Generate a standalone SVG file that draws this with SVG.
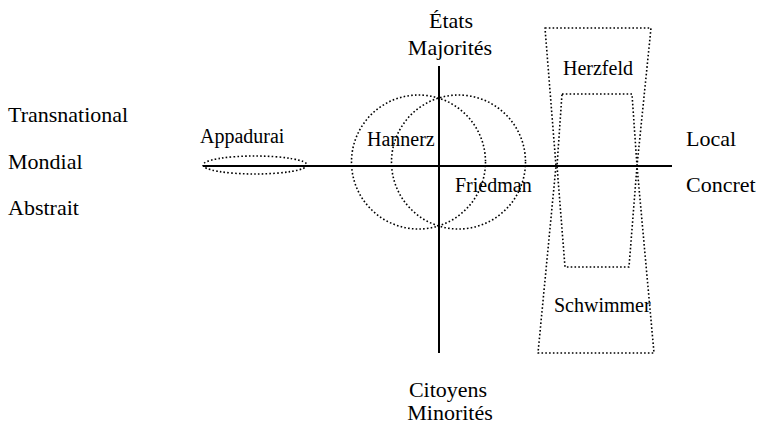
<svg xmlns="http://www.w3.org/2000/svg" width="759" height="427" viewBox="0 0 759 427">
<style>
text{font-family:"Liberation Serif","Times New Roman",serif;fill:#000}
.big{font-size:22px}
.small{font-size:20px}
.mid{text-anchor:middle}
.axis{stroke:#000;stroke-width:2;fill:none}
.dot{stroke:#000;stroke-width:1.6;stroke-dasharray:1.6 2.2;fill:none;stroke-linejoin:round}
</style>
<rect width="759" height="427" fill="#fff"/>
<g id="connectors">
<line class="axis" x1="203" y1="166" x2="672" y2="166"/>
<line class="axis" x1="439" y1="66" x2="439" y2="353"/>
</g>
<g id="labels-left">
<text class="big" x="8" y="122">Transnational</text>
<text class="big" x="8" y="169">Mondial</text>
<text class="big" x="8" y="215">Abstrait</text>
</g>
<g id="labels-top">
<text class="big mid" x="451" y="28">États</text>
<text class="big mid" x="450" y="55">Majorités</text>
</g>
<g id="labels-bottom">
<text class="big mid" x="448" y="397">Citoyens</text>
<text class="big mid" x="450" y="420">Minorités</text>
</g>
<g id="labels-right">
<text class="big" x="686" y="146">Local</text>
<text class="big" x="686" y="192">Concret</text>
</g>
<g id="appadurai">
<ellipse class="dot" cx="255" cy="165" rx="52" ry="9"/>
<text class="small" x="200" y="143">Appadurai</text>
</g>
<g id="hannerz">
<circle class="dot" cx="418.5" cy="162" r="67"/>
<text class="small" x="367" y="146">Hannerz</text>
</g>
<g id="friedman">
<circle class="dot" cx="458.5" cy="162" r="67"/>
<text class="small" x="455" y="192">Friedman</text>
</g>
<g id="schwimmer">
<polygon class="dot" points="545,28 651,28 637,166 654,353 538,353 556,166"/>
<text class="small" x="554" y="312">Schwimmer</text>
</g>
<g id="herzfeld">
<polygon class="dot" points="562,94 632,94 637,166 629,267 565,267 557,166"/>
<text class="small" x="563" y="75">Herzfeld</text>
</g>
</svg>
